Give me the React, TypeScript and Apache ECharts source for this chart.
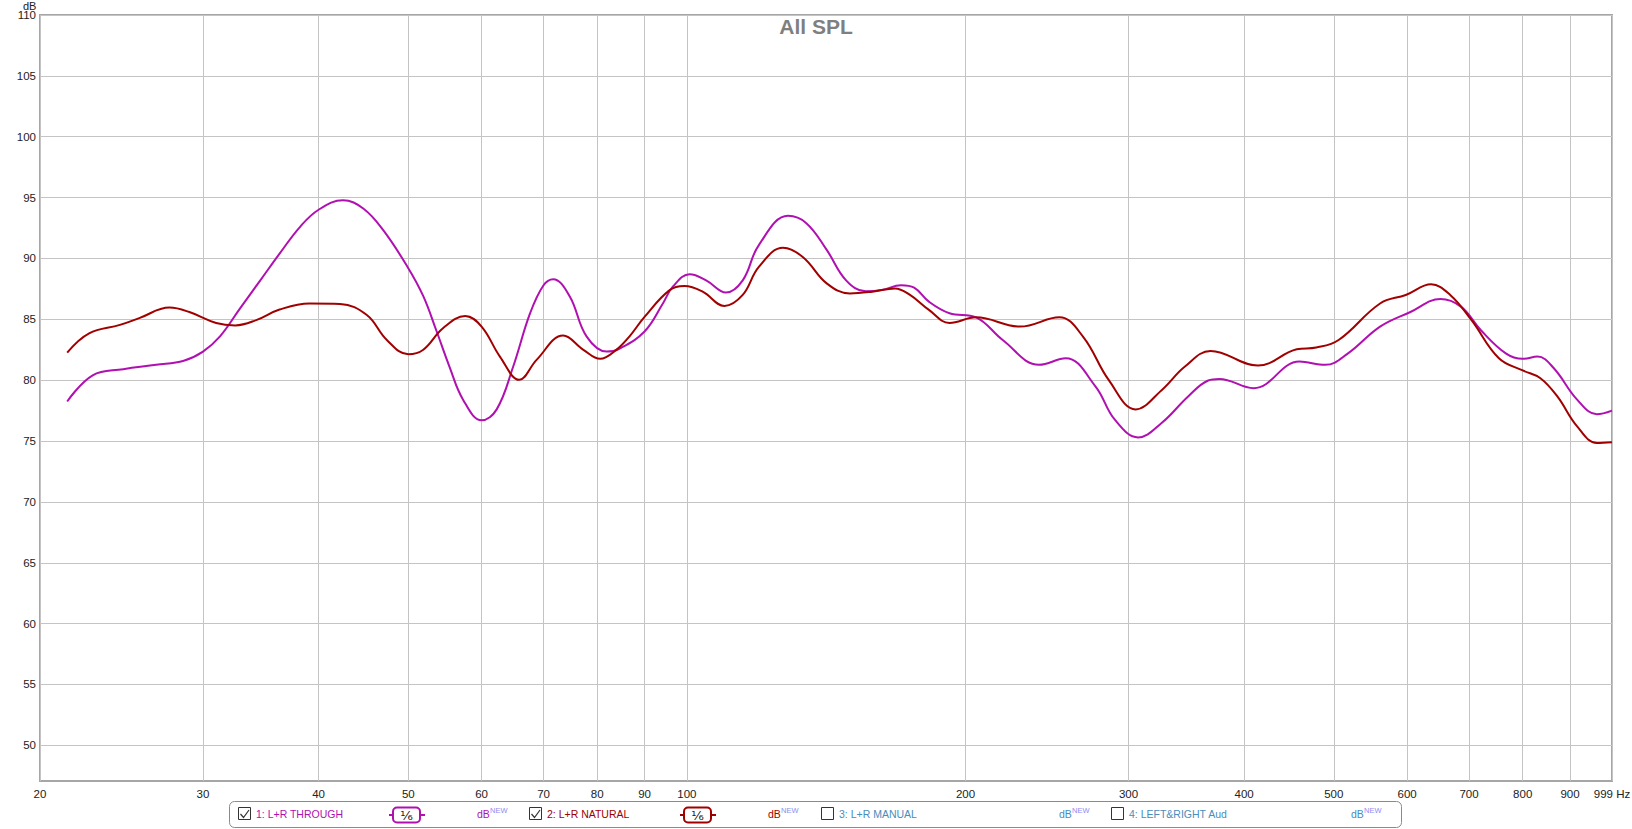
import React, { useEffect, useRef } from 'react';
import * as echarts from 'echarts';

// ---- data ----
const freqThrough = [21.4, 22.8, 24.6, 26.7, 28.6, 30, 31.3, 32.9, 34.6, 36.3, 38.2, 40, 42.5, 44.7, 47.0, 50, 51.9, 53.6, 55.4, 57.3, 60, 62.3, 64.9, 67.7, 70, 71.7, 74.7, 77.9, 81.9, 84.6, 90, 94.2, 96.6, 100.7, 104.9, 110.2, 114.9, 119.6, 128.6, 134.6, 141.6, 148.6, 156, 162.4, 170.4, 176, 182.6, 192.2, 205.3, 219.4, 240.2, 256.6, 276.3, 290, 307.3, 326, 348, 365.8, 376, 409.6, 459, 489.5, 518, 561, 605, 652, 686, 721, 767, 800, 830, 864, 916, 962, 999];
const splThrough = [78.25, 80.4, 80.9, 81.26, 81.6, 82.35, 83.6, 85.9, 88.2, 90.4, 92.6, 94.0, 94.78, 94.1, 92.3, 89.2, 86.9, 84.1, 81.1, 78.4, 76.7, 77.6, 81.1, 85.5, 87.8, 88.3, 86.9, 83.6, 82.35, 82.6, 84.0, 86.3, 87.7, 88.7, 88.2, 87.2, 88.2, 91.1, 93.5, 92.9, 90.7, 88.2, 87.3, 87.4, 87.8, 87.6, 86.45, 85.5, 85.16, 83.3, 81.26, 81.8, 79.5, 76.75, 75.3, 76.5, 78.66, 79.97, 80.1, 79.34, 81.53, 81.26, 82.2, 84.4, 85.6, 86.67, 86.04, 84.1, 82.2, 81.75, 81.94, 81.0, 78.4, 77.2, 77.5];

const freqNatural = [21.4, 22.6, 24.4, 25.6, 27.6, 29.0, 31.0, 32.5, 34.3, 36.3, 39.1, 42.2, 45.1, 47.4, 50, 51.9, 54.5, 57.6, 60, 62.8, 65.9, 68.8, 73.5, 77.3, 80.6, 83.9, 86.7, 90, 95.8, 99.4, 104, 109.8, 114.9, 119.6, 127, 133.5, 141.6, 150, 158.6, 167.8, 174.2, 182.6, 192.2, 205.3, 229, 252.6, 267.9, 285.7, 305.4, 326, 345, 368, 414, 456, 478.6, 506, 561, 598, 637, 668, 704, 754, 800, 836, 872, 916, 962, 999];
const splNatural = [82.27, 83.85, 84.54, 85.1, 85.96, 85.6, 84.7, 84.5, 84.95, 85.8, 86.3, 86.26, 85.35, 83.3, 82.13, 82.5, 84.26, 85.27, 84.4, 81.94, 80.03, 81.67, 83.66, 82.49, 81.75, 82.49, 83.6, 85.2, 87.4, 87.73, 87.27, 86.1, 87.0, 89.3, 90.87, 90.1, 87.95, 87.13, 87.27, 87.54, 87.0, 85.77, 84.7, 85.16, 84.4, 85.16, 83.58, 80.0, 77.6, 79.2, 81.1, 82.4, 81.2, 82.54, 82.68, 83.3, 86.3, 87.0, 87.87, 87.0, 84.95, 81.8, 80.8, 80.16, 78.66, 76.2, 74.84, 74.9];

const xTickFreqs = [20, 30, 40, 50, 60, 70, 80, 90, 100, 200, 300, 400, 500, 600, 700, 800, 900, 999];
const xTickLabels = ['20', '30', '40', '50', '60', '70', '80', '90', '100', '200', '300', '400', '500', '600', '700', '800', '900', '999 Hz'];
const yTicks = [50, 55, 60, 65, 70, 75, 80, 85, 90, 95, 100, 105, 110];

const legendNames = ['1: L+R THROUGH', '2: L+R NATURAL', '3: L+R MANUAL', '4: LEFT&RIGHT Aud'];
const legendChecked = [true, true, false, false];
const legendHasSmoothing = [true, true, false, false];

const COLOR_THROUGH = '#b010b0';
const COLOR_NATURAL = '#a00000';
const COLOR_OFF = '#4a8cba';
const legendColors = [COLOR_THROUGH, COLOR_NATURAL, COLOR_OFF, COLOR_OFF];

const FONT = '"Liberation Sans", Arial, sans-serif';

function buildLegend(): any[] {
  const els: any[] = [];
  els.push({
    type: 'rect',
    shape: { x: 229.5, y: 801.5, width: 1172, height: 26, r: 5 },
    style: { fill: '#ffffff', stroke: '#8a8a8a', lineWidth: 1 },
    z: 10,
  });
  const checkX = [238, 529, 821, 1111];
  const smoothX = [389, 680];
  const dbX = [477, 768, 1059, 1351];
  const cy = 814;
  for (let i = 0; i < legendNames.length; i++) {
    const bx = checkX[i];
    els.push({
      type: 'rect',
      shape: { x: bx + 0.5, y: cy - 6.5, width: 12, height: 12 },
      style: { fill: '#ffffff', stroke: '#333333', lineWidth: 1 },
      z: 11,
    });
    if (legendChecked[i]) {
      els.push({
        type: 'polyline',
        shape: { points: [[bx + 2.5, cy], [bx + 5.5, cy + 3.5], [bx + 11, cy - 4]] },
        style: { stroke: '#333333', lineWidth: 1.2, fill: null },
        z: 12,
      });
    }
    els.push({
      type: 'text',
      x: bx + 18,
      y: cy,
      style: { text: legendNames[i], fill: legendColors[i], font: `10.5px ${FONT}`, verticalAlign: 'middle', align: 'left' },
      z: 12,
    });
    if (legendHasSmoothing[i]) {
      const sx = smoothX[i];
      els.push({
        type: 'line',
        shape: { x1: sx, y1: cy + 1, x2: sx + 36, y2: cy + 1 },
        style: { stroke: legendColors[i], lineWidth: 2 },
        z: 11,
      });
      els.push({
        type: 'rect',
        shape: { x: sx + 4, y: cy - 6.5, width: 27, height: 15, r: 4 },
        style: { fill: '#ffffff', stroke: legendColors[i], lineWidth: 2 },
        z: 12,
      });
      els.push({
        type: 'text',
        x: sx + 17.5,
        y: cy + 1,
        style: { text: '¹⁄₆', fill: '#222222', font: `13px "DejaVu Sans", ${FONT}`, verticalAlign: 'middle', align: 'center' },
        z: 13,
      });
    }
    els.push({
      type: 'text',
      x: dbX[i],
      y: cy,
      style: { text: 'dB', fill: legendColors[i], font: `10.5px ${FONT}`, verticalAlign: 'middle', align: 'left' },
      z: 12,
    });
    els.push({
      type: 'text',
      x: dbX[i] + 13,
      y: cy - 4,
      style: { text: 'NEW', fill: '#8c8cf0', font: `7.5px ${FONT}`, verticalAlign: 'middle', align: 'left' },
      z: 12,
    });
  }
  return els;
}

export default function App() {
  const ref = useRef<HTMLDivElement>(null);
  useEffect(() => {
    if (!ref.current) return;
    const chart = echarts.init(ref.current, undefined, { renderer: 'svg' });
    const xTickLogs = xTickFreqs.map((f) => Math.log10(f));
    const xFormatter = (v: number) => {
      for (let i = 0; i < xTickLogs.length; i++) {
        if (Math.abs(xTickLogs[i] - v) < 1e-6) return xTickLabels[i];
      }
      return '';
    };
    const option: any = {
      animation: false,
      backgroundColor: '#ffffff',
      grid: {
        left: 40,
        right: 20,
        top: 15,
        bottom: 48,
        show: true,
        borderColor: '#a6a6a6',
        borderWidth: 2,
        backgroundColor: '#ffffff',
        outerBoundsMode: 'none',
      },
      xAxis: {
        type: 'value',
        min: Math.log10(20),
        max: Math.log10(999),
        axisLine: { show: false },
        axisTick: { show: false, customValues: xTickLogs },
        axisLabel: {
          customValues: xTickLogs,
          formatter: xFormatter,
          color: '#222222',
          fontFamily: FONT,
          fontSize: 11.5,
          margin: 7,
        },
        splitLine: { show: true, lineStyle: { color: '#c4c4c4', width: 1 } },
      },
      yAxis: {
        type: 'value',
        min: 47.07,
        max: 110,
        axisLine: { show: false },
        axisTick: { show: false, customValues: yTicks },
        axisLabel: {
          customValues: yTicks,
          color: '#222222',
          fontFamily: FONT,
          fontSize: 11.5,
          margin: 4,
        },
        splitLine: { show: true, lineStyle: { color: '#c4c4c4', width: 1 } },
      },
      series: [
        {
          name: legendNames[0],
          type: 'line',
          data: freqThrough.map((f, i) => [Math.log10(f), splThrough[i]]),
          showSymbol: false,
          smooth: 0.4,
          lineStyle: { color: COLOR_THROUGH, width: 2 },
          itemStyle: { color: COLOR_THROUGH },
          z: 3,
        },
        {
          name: legendNames[1],
          type: 'line',
          data: freqNatural.map((f, i) => [Math.log10(f), splNatural[i]]),
          showSymbol: false,
          smooth: 0.4,
          lineStyle: { color: COLOR_NATURAL, width: 2 },
          itemStyle: { color: COLOR_NATURAL },
          z: 4,
        },
      ],
      graphic: [
        {
          type: 'text',
          x: 23,
          y: 6,
          style: { text: 'dB', fill: '#222222', font: `11px ${FONT}`, verticalAlign: 'middle', align: 'left' },
        },
        {
          type: 'text',
          x: 816,
          y: 26,
          style: { text: 'All SPL', fill: '#7f7f7f', font: `bold 21px ${FONT}`, verticalAlign: 'middle', align: 'center' },
          z: 5,
        },
        ...buildLegend(),
      ],
    };
    chart.setOption(option);
    return () => chart.dispose();
  }, []);
  return (
    <div
      ref={ref}
      style={{ position: 'fixed', left: 0, top: 0, width: 1632, height: 829, background: '#ffffff' }}
    />
  );
}
